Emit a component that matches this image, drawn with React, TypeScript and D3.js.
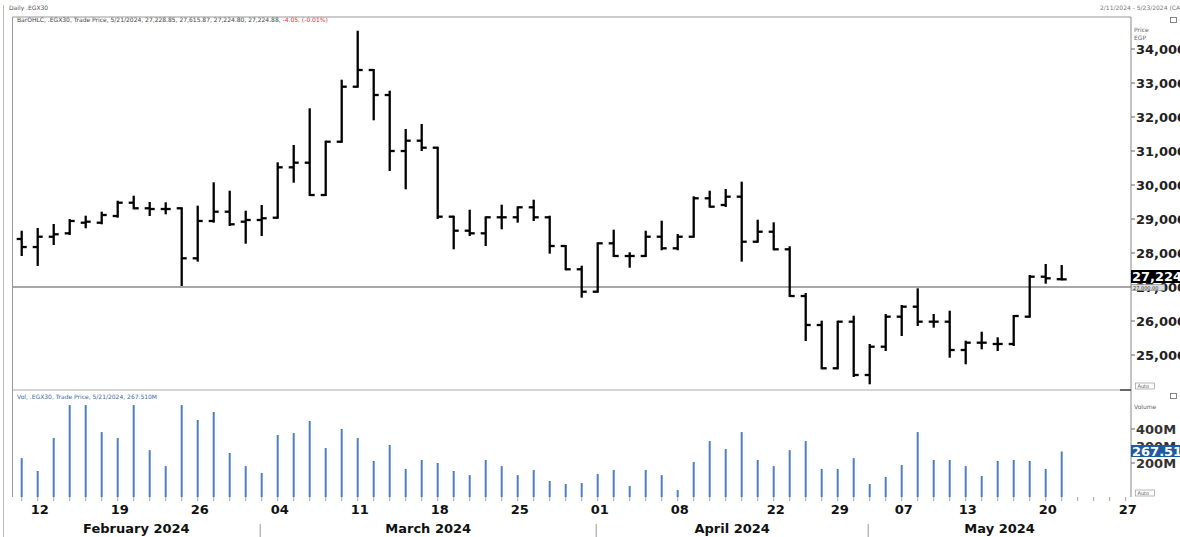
import React from "react";
import * as d3 from "d3";

const dates = [
  "2024-02-11","2024-02-12","2024-02-13","2024-02-14","2024-02-15","2024-02-18","2024-02-19","2024-02-20","2024-02-21","2024-02-22",
  "2024-02-25","2024-02-26","2024-02-27","2024-02-28","2024-02-29","2024-03-03","2024-03-04","2024-03-05","2024-03-06","2024-03-07",
  "2024-03-10","2024-03-11","2024-03-12","2024-03-13","2024-03-14","2024-03-17","2024-03-18","2024-03-19","2024-03-20","2024-03-21",
  "2024-03-24","2024-03-25","2024-03-26","2024-03-27","2024-03-28","2024-03-31","2024-04-01","2024-04-02","2024-04-03","2024-04-04",
  "2024-04-07","2024-04-08","2024-04-09","2024-04-16","2024-04-17","2024-04-18","2024-04-21","2024-04-22","2024-04-23","2024-04-24",
  "2024-04-28","2024-04-29","2024-04-30","2024-05-02","2024-05-05","2024-05-07","2024-05-08","2024-05-09","2024-05-12","2024-05-13",
  "2024-05-14","2024-05-15","2024-05-16","2024-05-19","2024-05-20","2024-05-21"
];
const futureDates = ["2024-05-22","2024-05-23","2024-05-26","2024-05-27"];

const opens = [
  28412,28176,28479,28579,28891,28891,29088,29479,29315,29294,
  29315,27844,28941,29215,28921,28971,29038,30520,30656,29706,
  31273,32891,33382,32647,31000,31303,31097,29068,28656,28579,
  29050,29050,29344,29050,28206,27521,26862,28285,27912,27912,
  28479,28138,28479,29609,29412,29656,28332,28626,28109,26735,
  25882,24609,25980,24412,25244,26127,26421,25980,25980,25147,
  25362,25324,25324,26127,27303,27228.85
];
const highs = [
  28626,28706,28824,28971,29068,29185,29509,29656,29471,29462,
  29315,29362,30050,29803,29215,29382,30638,31147,32226,31273,
  33067,34508,33382,32744,31617,31765,31097,29068,29244,29050,
  29391,29344,29538,29068,28206,27597,28285,28656,27991,28626,
  28921,28529,29638,29803,29853,30068,28950,28873,28168,26794,
  25980,25980,26127,25294,26177,26441,26932,26177,26274,25391,
  25656,25491,26147,27324,27647,27615.87
];
const lows = [
  27941,27647,28265,28559,28756,28873,29068,29315,29118,29168,
  27059,27774,28921,28824,28303,28529,29038,30097,29706,29706,
  31273,32891,31932,30441,29903,31029,29029,28138,28529,28235,
  28726,28921,28971,28009,27521,26715,26862,27912,27597,27912,
  28109,28109,28479,29362,29382,27774,28332,28109,26735,25441,
  24609,24609,24382,24168,25147,25588,25882,25833,24950,24756,
  25197,25147,25294,26127,27127,27224.80
];
const closes = [
  28176,28479,28550,28941,28921,29118,29479,29315,29294,29294,
  27844,28941,29215,28844,28971,29021,30520,30656,29706,31273,
  32891,33382,32647,31000,31303,31097,29068,28656,28579,29050,
  29050,29344,29050,28206,27521,26862,28285,27912,27912,28479,
  28138,28479,29609,29362,29656,28332,28626,28109,26735,25882,
  24609,25980,24412,25244,26127,26421,25980,25980,25147,25362,
  25362,25324,26147,27303,27256,27224.88
];
// volume in millions
const volumes = [
  229,153,347,541,541,382,347,541,276,182,
  541,453,500,259,182,141,365,376,447,288,
  400,347,212,306,165,218,200,153,129,218,
  182,129,159,94,76,82,135,159,65,159,
  129,41,206,329,282,382,218,182,276,329,
  165,165,229,76,118,188,382,218,218,182,
  124,212,218,212,165,267.51
];

const priceTicks = [25000,26000,27000,28000,29000,30000,31000,32000,33000,34000];
const volumeTicks = [200,300,400];
const dayTickDates = [
  "2024-02-12","2024-02-19","2024-02-26","2024-03-04","2024-03-11","2024-03-18","2024-03-25",
  "2024-04-01","2024-04-08","2024-04-22","2024-04-29","2024-05-07","2024-05-13","2024-05-20","2024-05-27"
];
const referenceLevel = 27000;
const lastVolumeText = "267.510";

const W = 1180, H = 537;
const PL = 12.5, PR = 1131;
const PRICE_TOP = 17, PRICE_BOTTOM = 390;
const VOL_TOP = 392, VOL_BOTTOM = 497;

export default function App() {
  const allDates = [...dates, ...futureDates];
  const x = d3.scalePoint<string>().domain(allDates).range([21.7, 1125.7]);
  const y = d3.scaleLinear().domain([25000, 34000]).range([355, 49]);
  const yv = d3.scaleLinear().domain([0, 400]).range([VOL_BOTTOM, 429]);
  const fmt = d3.format(",.0f");
  const parse = d3.timeParse("%Y-%m-%d");
  const monthFmt = d3.timeFormat("%B %Y");

  // month segments
  const monthStarts: { idx: number; label: string }[] = [];
  dates.forEach((d, i) => {
    const m = d.slice(0, 7);
    if (i === 0 || dates[i - 1].slice(0, 7) !== m) {
      monthStarts.push({ idx: i, label: monthFmt(parse(d) as Date) });
    }
  });
  const bounds = monthStarts.map((m, i) => (i === 0 ? PL : (x(dates[m.idx]) as number) - 1.5));
  bounds.push(PR);

  const last = closes[closes.length - 1];
  const tick = 5;
  const font = "'DejaVu Sans', Verdana, sans-serif";

  return (
    <svg width={W} height={H} style={{ position: "absolute", left: 0, top: 0, background: "#fff" }} fontFamily={font}>
      <rect x={0} y={0} width={W} height={H} fill="#fff" />
      {/* outer frames */}
      <line x1={3.5} x2={3.5} y1={5} y2={H} stroke="#bbb" />
      <line x1={PL} x2={PL} y1={PRICE_TOP} y2={VOL_BOTTOM} stroke="#999" />
      <line x1={PL} x2={PR} y1={PRICE_TOP} y2={PRICE_TOP} stroke="#999" />
      <line x1={PR} x2={PR} y1={PRICE_TOP} y2={VOL_BOTTOM} stroke="#888" />
      <line x1={PL} x2={PR} y1={PRICE_BOTTOM} y2={PRICE_BOTTOM} stroke="#aaa" />
      <line x1={PR - 11} x2={PR} y1={PRICE_BOTTOM} y2={PRICE_BOTTOM} stroke="#444" strokeWidth={1.5} />

      {/* header texts */}
      <text x={9} y={10} fontSize={6} fill="#555">Daily .EGX30</text>
      <text x={1100} y={10} fontSize={6} fill="#777">2/11/2024 - 5/23/2024 (CAI)</text>
      <text x={17} y={22} fontSize={6} fill="#444">
        BarOHLC, .EGX30, Trade Price, 5/21/2024, 27,228.85, 27,615.87, 27,224.80, 27,224.88,{" "}
        <tspan fill="#e03030">-4.05, (-0.01%)</tspan>
      </text>
      <rect x={1170.5} y={17.5} width={6} height={5} fill="none" stroke="#666" strokeWidth={0.8} />
      <text x={1134} y={32} fontSize={6} fill="#666">Price</text>
      <text x={1134} y={40} fontSize={6} fill="#666">EGP</text>

      {/* reference horizontal line */}
      <line x1={PL} x2={PR} y1={y(referenceLevel)} y2={y(referenceLevel)} stroke="#8a8a8a" strokeWidth={1.3} />

      {/* OHLC bars */}
      {dates.map((d, i) => {
        const cx = x(d) as number;
        return (
          <g key={d} stroke="#000" strokeWidth={2.3}>
            <line x1={cx} x2={cx} y1={y(highs[i]) - 1} y2={y(lows[i]) + 1} />
            <line x1={cx - tick} x2={cx} y1={y(opens[i])} y2={y(opens[i])} />
            <line x1={cx} x2={cx + tick} y1={y(closes[i])} y2={y(closes[i])} />
          </g>
        );
      })}

      {/* price axis */}
      {priceTicks.map((t) => (
        <g key={t}>
          <line x1={PR} x2={PR + 4} y1={y(t)} y2={y(t)} stroke="#666" />
          <text x={PR + 5} y={y(t)} dy="0.36em" fontSize={13} fontWeight="bold" fill="#222">{fmt(t)}</text>
        </g>
      ))}
      <rect x={PR} y={270} width={W - PR} height={13} fill="#000" />
      <text x={PR + 1} y={276.5} dy="0.36em" fontSize={13} fontWeight="bold" fill="#fff">{fmt(Math.floor(last))}</text>
      <rect x={PR + 0.5} y={284.5} width={33} height={6} fill="#ddd" stroke="#888" strokeWidth={0.6} />
      <text x={PR + 2} y={289.5} fontSize={5} fill="#333">{d3.format(",.2f")(referenceLevel)}</text>
      <rect x={1135.5} y={383} width={19} height={6} fill="#fff" stroke="#999" strokeWidth={0.7} />
      <text x={1137.5} y={388} fontSize={5} fill="#555">Auto</text>

      {/* volume panel */}
      <text x={17} y={399} fontSize={6} fill="#3a6aa8">Vol, .EGX30, Trade Price, 5/21/2024, 267.510M</text>
      <rect x={1170.5} y={393.5} width={6} height={5} fill="none" stroke="#666" strokeWidth={0.8} />
      <text x={1134} y={409} fontSize={6} fill="#666">Volume</text>
      {dates.map((d, i) => {
        const cx = x(d) as number;
        return <line key={"v" + d} x1={cx} x2={cx} y1={yv(volumes[i])} y2={VOL_BOTTOM} stroke="#4f7fb8" strokeWidth={2} />;
      })}
      {volumeTicks.map((t) => (
        <g key={t}>
          <line x1={PR} x2={PR + 4} y1={yv(t)} y2={yv(t)} stroke="#666" />
          <text x={PR + 5} y={yv(t)} dy="0.36em" fontSize={13} fontWeight="bold" fill="#333">{t}M</text>
        </g>
      ))}
      <rect x={PR} y={445} width={W - PR} height={12} fill="#1f5aa0" />
      <text x={PR + 1} y={451} dy="0.36em" fontSize={13} fontWeight="bold" fill="#fff">{lastVolumeText}</text>
      <rect x={1135.5} y={490} width={19} height={6} fill="#fff" stroke="#999" strokeWidth={0.7} />
      <text x={1137.5} y={495} fontSize={5} fill="#555">Auto</text>

      {/* x axis ticks */}
      {allDates.map((d) => {
        const cx = x(d) as number;
        return <line key={"t" + d} x1={cx} x2={cx} y1={VOL_BOTTOM} y2={VOL_BOTTOM + 4} stroke="#9aaabb" />;
      })}
      {dayTickDates.map((d) => (
        <text key={"l" + d} x={(x(d) as number) + 2} y={514} textAnchor="middle" fontSize={13} fontWeight="bold" fill="#111">
          {d.slice(8, 10)}
        </text>
      ))}
      {monthStarts.map((m, i) => (
        <g key={m.label}>
          {i > 0 && <line x1={bounds[i]} x2={bounds[i]} y1={524} y2={H} stroke="#999" />}
          <text x={(bounds[i] + bounds[i + 1]) / 2} y={533} textAnchor="middle" fontSize={13} fontWeight="bold" fill="#111">
            {m.label}
          </text>
        </g>
      ))}
    </svg>
  );
}
